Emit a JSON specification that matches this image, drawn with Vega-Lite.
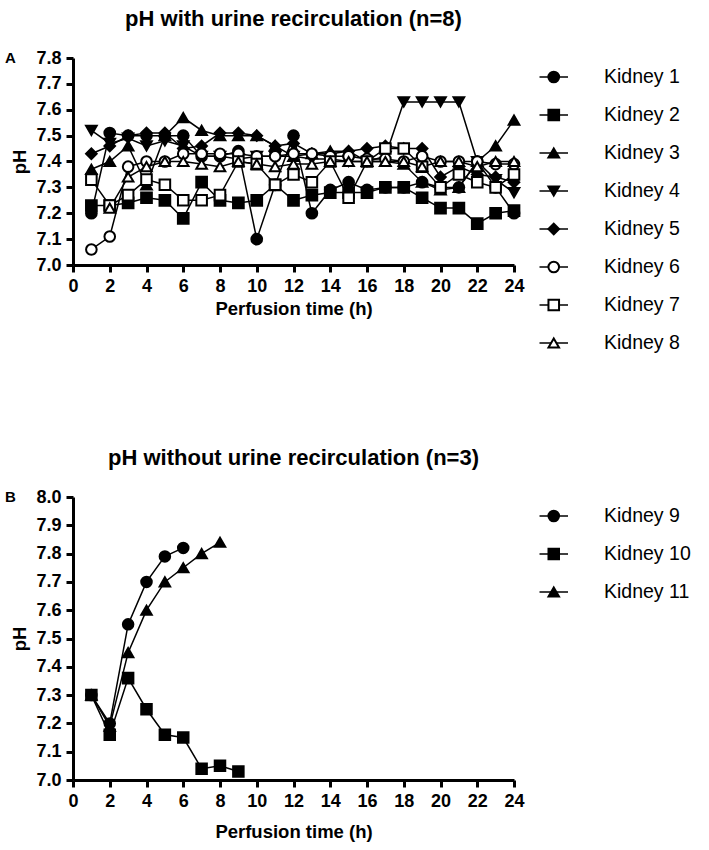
{
  "$schema": "https://vega.github.io/schema/vega-lite/v6.json",
  "padding": {"left": 5, "top": 8, "right": 5, "bottom": 5},
  "background": "white",
  "config": {
    "view": {"stroke": null},
    "font": "Liberation Sans",
    "axis": {
      "grid": false, "domainColor": "black", "domainWidth": 3, "tickColor": "black", "tickWidth": 3, "tickSize": 7,
      "labelFont": "Liberation Sans", "labelFontWeight": "bold", "labelFontSize": 18, "labelColor": "black", "labelPadding": 5,
      "titleFont": "Liberation Sans", "titleFontWeight": "bold", "titleFontSize": 18.5, "titleColor": "black"
    },
    "title": {"font": "Liberation Sans", "fontWeight": "bold", "fontSize": 22, "color": "black", "frame": "group", "anchor": "middle", "offset": 18}
  },
  "datasets": {
    "a": [
      {"kidney": "Kidney 1", "t": 1, "ph": 7.20}, {"kidney": "Kidney 1", "t": 2, "ph": 7.51}, {"kidney": "Kidney 1", "t": 3, "ph": 7.50}, {"kidney": "Kidney 1", "t": 4, "ph": 7.50}, {"kidney": "Kidney 1", "t": 5, "ph": 7.50}, {"kidney": "Kidney 1", "t": 6, "ph": 7.50}, {"kidney": "Kidney 1", "t": 7, "ph": 7.42}, {"kidney": "Kidney 1", "t": 8, "ph": 7.42}, {"kidney": "Kidney 1", "t": 9, "ph": 7.44}, {"kidney": "Kidney 1", "t": 10, "ph": 7.10}, {"kidney": "Kidney 1", "t": 11, "ph": 7.31}, {"kidney": "Kidney 1", "t": 12, "ph": 7.50}, {"kidney": "Kidney 1", "t": 13, "ph": 7.20}, {"kidney": "Kidney 1", "t": 14, "ph": 7.29}, {"kidney": "Kidney 1", "t": 15, "ph": 7.32}, {"kidney": "Kidney 1", "t": 16, "ph": 7.29}, {"kidney": "Kidney 1", "t": 17, "ph": 7.30}, {"kidney": "Kidney 1", "t": 18, "ph": 7.30}, {"kidney": "Kidney 1", "t": 19, "ph": 7.32}, {"kidney": "Kidney 1", "t": 20, "ph": 7.30}, {"kidney": "Kidney 1", "t": 21, "ph": 7.30}, {"kidney": "Kidney 1", "t": 22, "ph": 7.40}, {"kidney": "Kidney 1", "t": 23, "ph": 7.30}, {"kidney": "Kidney 1", "t": 24, "ph": 7.20},
      {"kidney": "Kidney 2", "t": 1, "ph": 7.23}, {"kidney": "Kidney 2", "t": 2, "ph": 7.23}, {"kidney": "Kidney 2", "t": 3, "ph": 7.24}, {"kidney": "Kidney 2", "t": 4, "ph": 7.26}, {"kidney": "Kidney 2", "t": 5, "ph": 7.25}, {"kidney": "Kidney 2", "t": 6, "ph": 7.18}, {"kidney": "Kidney 2", "t": 7, "ph": 7.32}, {"kidney": "Kidney 2", "t": 8, "ph": 7.25}, {"kidney": "Kidney 2", "t": 9, "ph": 7.24}, {"kidney": "Kidney 2", "t": 10, "ph": 7.25}, {"kidney": "Kidney 2", "t": 11, "ph": 7.31}, {"kidney": "Kidney 2", "t": 12, "ph": 7.25}, {"kidney": "Kidney 2", "t": 13, "ph": 7.27}, {"kidney": "Kidney 2", "t": 14, "ph": 7.28}, {"kidney": "Kidney 2", "t": 15, "ph": 7.28}, {"kidney": "Kidney 2", "t": 16, "ph": 7.28}, {"kidney": "Kidney 2", "t": 17, "ph": 7.30}, {"kidney": "Kidney 2", "t": 18, "ph": 7.30}, {"kidney": "Kidney 2", "t": 19, "ph": 7.26}, {"kidney": "Kidney 2", "t": 20, "ph": 7.22}, {"kidney": "Kidney 2", "t": 21, "ph": 7.22}, {"kidney": "Kidney 2", "t": 22, "ph": 7.16}, {"kidney": "Kidney 2", "t": 23, "ph": 7.20}, {"kidney": "Kidney 2", "t": 24, "ph": 7.21},
      {"kidney": "Kidney 3", "t": 1, "ph": 7.37}, {"kidney": "Kidney 3", "t": 2, "ph": 7.40}, {"kidney": "Kidney 3", "t": 3, "ph": 7.46}, {"kidney": "Kidney 3", "t": 4, "ph": 7.31}, {"kidney": "Kidney 3", "t": 5, "ph": 7.50}, {"kidney": "Kidney 3", "t": 6, "ph": 7.57}, {"kidney": "Kidney 3", "t": 7, "ph": 7.52}, {"kidney": "Kidney 3", "t": 8, "ph": 7.50}, {"kidney": "Kidney 3", "t": 9, "ph": 7.50}, {"kidney": "Kidney 3", "t": 10, "ph": 7.50}, {"kidney": "Kidney 3", "t": 11, "ph": 7.46}, {"kidney": "Kidney 3", "t": 12, "ph": 7.42}, {"kidney": "Kidney 3", "t": 13, "ph": 7.43}, {"kidney": "Kidney 3", "t": 14, "ph": 7.44}, {"kidney": "Kidney 3", "t": 15, "ph": 7.44}, {"kidney": "Kidney 3", "t": 16, "ph": 7.40}, {"kidney": "Kidney 3", "t": 17, "ph": 7.40}, {"kidney": "Kidney 3", "t": 18, "ph": 7.39}, {"kidney": "Kidney 3", "t": 19, "ph": 7.32}, {"kidney": "Kidney 3", "t": 20, "ph": 7.29}, {"kidney": "Kidney 3", "t": 21, "ph": 7.30}, {"kidney": "Kidney 3", "t": 22, "ph": 7.40}, {"kidney": "Kidney 3", "t": 23, "ph": 7.46}, {"kidney": "Kidney 3", "t": 24, "ph": 7.56},
      {"kidney": "Kidney 4", "t": 1, "ph": 7.52}, {"kidney": "Kidney 4", "t": 2, "ph": 7.47}, {"kidney": "Kidney 4", "t": 3, "ph": 7.49}, {"kidney": "Kidney 4", "t": 4, "ph": 7.46}, {"kidney": "Kidney 4", "t": 5, "ph": 7.48}, {"kidney": "Kidney 4", "t": 6, "ph": 7.46}, {"kidney": "Kidney 4", "t": 7, "ph": 7.42}, {"kidney": "Kidney 4", "t": 8, "ph": 7.42}, {"kidney": "Kidney 4", "t": 9, "ph": 7.41}, {"kidney": "Kidney 4", "t": 10, "ph": 7.42}, {"kidney": "Kidney 4", "t": 11, "ph": 7.42}, {"kidney": "Kidney 4", "t": 12, "ph": 7.42}, {"kidney": "Kidney 4", "t": 13, "ph": 7.41}, {"kidney": "Kidney 4", "t": 14, "ph": 7.41}, {"kidney": "Kidney 4", "t": 15, "ph": 7.40}, {"kidney": "Kidney 4", "t": 16, "ph": 7.40}, {"kidney": "Kidney 4", "t": 17, "ph": 7.42}, {"kidney": "Kidney 4", "t": 18, "ph": 7.63}, {"kidney": "Kidney 4", "t": 19, "ph": 7.63}, {"kidney": "Kidney 4", "t": 20, "ph": 7.63}, {"kidney": "Kidney 4", "t": 21, "ph": 7.63}, {"kidney": "Kidney 4", "t": 22, "ph": 7.40}, {"kidney": "Kidney 4", "t": 23, "ph": 7.33}, {"kidney": "Kidney 4", "t": 24, "ph": 7.28},
      {"kidney": "Kidney 5", "t": 1, "ph": 7.43}, {"kidney": "Kidney 5", "t": 2, "ph": 7.46}, {"kidney": "Kidney 5", "t": 3, "ph": 7.50}, {"kidney": "Kidney 5", "t": 4, "ph": 7.51}, {"kidney": "Kidney 5", "t": 5, "ph": 7.51}, {"kidney": "Kidney 5", "t": 6, "ph": 7.45}, {"kidney": "Kidney 5", "t": 7, "ph": 7.46}, {"kidney": "Kidney 5", "t": 8, "ph": 7.51}, {"kidney": "Kidney 5", "t": 9, "ph": 7.51}, {"kidney": "Kidney 5", "t": 10, "ph": 7.50}, {"kidney": "Kidney 5", "t": 11, "ph": 7.46}, {"kidney": "Kidney 5", "t": 12, "ph": 7.47}, {"kidney": "Kidney 5", "t": 13, "ph": 7.43}, {"kidney": "Kidney 5", "t": 14, "ph": 7.43}, {"kidney": "Kidney 5", "t": 15, "ph": 7.44}, {"kidney": "Kidney 5", "t": 16, "ph": 7.45}, {"kidney": "Kidney 5", "t": 17, "ph": 7.46}, {"kidney": "Kidney 5", "t": 18, "ph": 7.45}, {"kidney": "Kidney 5", "t": 19, "ph": 7.45}, {"kidney": "Kidney 5", "t": 20, "ph": 7.34}, {"kidney": "Kidney 5", "t": 21, "ph": 7.38}, {"kidney": "Kidney 5", "t": 22, "ph": 7.35}, {"kidney": "Kidney 5", "t": 23, "ph": 7.34}, {"kidney": "Kidney 5", "t": 24, "ph": 7.32},
      {"kidney": "Kidney 6", "t": 1, "ph": 7.06}, {"kidney": "Kidney 6", "t": 2, "ph": 7.11}, {"kidney": "Kidney 6", "t": 3, "ph": 7.38}, {"kidney": "Kidney 6", "t": 4, "ph": 7.40}, {"kidney": "Kidney 6", "t": 5, "ph": 7.40}, {"kidney": "Kidney 6", "t": 6, "ph": 7.43}, {"kidney": "Kidney 6", "t": 7, "ph": 7.43}, {"kidney": "Kidney 6", "t": 8, "ph": 7.43}, {"kidney": "Kidney 6", "t": 9, "ph": 7.43}, {"kidney": "Kidney 6", "t": 10, "ph": 7.42}, {"kidney": "Kidney 6", "t": 11, "ph": 7.42}, {"kidney": "Kidney 6", "t": 12, "ph": 7.43}, {"kidney": "Kidney 6", "t": 13, "ph": 7.43}, {"kidney": "Kidney 6", "t": 14, "ph": 7.42}, {"kidney": "Kidney 6", "t": 15, "ph": 7.42}, {"kidney": "Kidney 6", "t": 16, "ph": 7.41}, {"kidney": "Kidney 6", "t": 17, "ph": 7.41}, {"kidney": "Kidney 6", "t": 18, "ph": 7.40}, {"kidney": "Kidney 6", "t": 19, "ph": 7.42}, {"kidney": "Kidney 6", "t": 20, "ph": 7.40}, {"kidney": "Kidney 6", "t": 21, "ph": 7.40}, {"kidney": "Kidney 6", "t": 22, "ph": 7.40}, {"kidney": "Kidney 6", "t": 23, "ph": 7.39}, {"kidney": "Kidney 6", "t": 24, "ph": 7.39},
      {"kidney": "Kidney 7", "t": 1, "ph": 7.33}, {"kidney": "Kidney 7", "t": 2, "ph": 7.23}, {"kidney": "Kidney 7", "t": 3, "ph": 7.27}, {"kidney": "Kidney 7", "t": 4, "ph": 7.33}, {"kidney": "Kidney 7", "t": 5, "ph": 7.31}, {"kidney": "Kidney 7", "t": 6, "ph": 7.25}, {"kidney": "Kidney 7", "t": 7, "ph": 7.25}, {"kidney": "Kidney 7", "t": 8, "ph": 7.27}, {"kidney": "Kidney 7", "t": 9, "ph": 7.40}, {"kidney": "Kidney 7", "t": 10, "ph": 7.39}, {"kidney": "Kidney 7", "t": 11, "ph": 7.31}, {"kidney": "Kidney 7", "t": 12, "ph": 7.35}, {"kidney": "Kidney 7", "t": 13, "ph": 7.32}, {"kidney": "Kidney 7", "t": 14, "ph": 7.40}, {"kidney": "Kidney 7", "t": 15, "ph": 7.26}, {"kidney": "Kidney 7", "t": 16, "ph": 7.40}, {"kidney": "Kidney 7", "t": 17, "ph": 7.45}, {"kidney": "Kidney 7", "t": 18, "ph": 7.45}, {"kidney": "Kidney 7", "t": 19, "ph": 7.38}, {"kidney": "Kidney 7", "t": 20, "ph": 7.30}, {"kidney": "Kidney 7", "t": 21, "ph": 7.35}, {"kidney": "Kidney 7", "t": 22, "ph": 7.32}, {"kidney": "Kidney 7", "t": 23, "ph": 7.30}, {"kidney": "Kidney 7", "t": 24, "ph": 7.35},
      {"kidney": "Kidney 8", "t": 2, "ph": 7.22}, {"kidney": "Kidney 8", "t": 3, "ph": 7.34}, {"kidney": "Kidney 8", "t": 4, "ph": 7.38}, {"kidney": "Kidney 8", "t": 5, "ph": 7.40}, {"kidney": "Kidney 8", "t": 6, "ph": 7.40}, {"kidney": "Kidney 8", "t": 7, "ph": 7.39}, {"kidney": "Kidney 8", "t": 8, "ph": 7.38}, {"kidney": "Kidney 8", "t": 9, "ph": 7.40}, {"kidney": "Kidney 8", "t": 10, "ph": 7.39}, {"kidney": "Kidney 8", "t": 11, "ph": 7.38}, {"kidney": "Kidney 8", "t": 12, "ph": 7.39}, {"kidney": "Kidney 8", "t": 13, "ph": 7.39}, {"kidney": "Kidney 8", "t": 14, "ph": 7.40}, {"kidney": "Kidney 8", "t": 15, "ph": 7.40}, {"kidney": "Kidney 8", "t": 16, "ph": 7.40}, {"kidney": "Kidney 8", "t": 17, "ph": 7.40}, {"kidney": "Kidney 8", "t": 18, "ph": 7.40}, {"kidney": "Kidney 8", "t": 19, "ph": 7.38}, {"kidney": "Kidney 8", "t": 20, "ph": 7.40}, {"kidney": "Kidney 8", "t": 21, "ph": 7.40}, {"kidney": "Kidney 8", "t": 22, "ph": 7.38}, {"kidney": "Kidney 8", "t": 23, "ph": 7.40}, {"kidney": "Kidney 8", "t": 24, "ph": 7.40}
    ],
    "b": [
      {"kidney": "Kidney 9", "t": 1, "ph": 7.30}, {"kidney": "Kidney 9", "t": 2, "ph": 7.20}, {"kidney": "Kidney 9", "t": 3, "ph": 7.55}, {"kidney": "Kidney 9", "t": 4, "ph": 7.70}, {"kidney": "Kidney 9", "t": 5, "ph": 7.79}, {"kidney": "Kidney 9", "t": 6, "ph": 7.82},
      {"kidney": "Kidney 10", "t": 1, "ph": 7.30}, {"kidney": "Kidney 10", "t": 2, "ph": 7.16}, {"kidney": "Kidney 10", "t": 3, "ph": 7.36}, {"kidney": "Kidney 10", "t": 4, "ph": 7.25}, {"kidney": "Kidney 10", "t": 5, "ph": 7.16}, {"kidney": "Kidney 10", "t": 6, "ph": 7.15}, {"kidney": "Kidney 10", "t": 7, "ph": 7.04}, {"kidney": "Kidney 10", "t": 8, "ph": 7.05}, {"kidney": "Kidney 10", "t": 9, "ph": 7.03},
      {"kidney": "Kidney 11", "t": 1, "ph": 7.30}, {"kidney": "Kidney 11", "t": 2, "ph": 7.19}, {"kidney": "Kidney 11", "t": 3, "ph": 7.45}, {"kidney": "Kidney 11", "t": 4, "ph": 7.60}, {"kidney": "Kidney 11", "t": 5, "ph": 7.70}, {"kidney": "Kidney 11", "t": 6, "ph": 7.75}, {"kidney": "Kidney 11", "t": 7, "ph": 7.80}, {"kidney": "Kidney 11", "t": 8, "ph": 7.84}
    ],
    "panelA": [{"lab": "A", "t": -3.4, "ph": 7.8}],
    "panelB": [{"lab": "B", "t": -3.4, "ph": 8.0}]
  },
  "vconcat": [
    {
      "hconcat": [
        {
          "width": 441, "height": 207,
          "title": {"text": "pH with urine recirculation (n=8)"},
          "encoding": {
            "x": {"field": "t", "type": "quantitative", "scale": {"domain": [0, 24], "nice": false}, "axis": {"title": "Perfusion time (h)", "values": [0, 2, 4, 6, 8, 10, 12, 14, 16, 18, 20, 22, 24], "labelFlush": false}},
            "y": {"field": "ph", "type": "quantitative", "scale": {"domain": [7.0, 7.8], "nice": false, "zero": false}, "axis": {"title": "pH", "values": [7.0, 7.1, 7.2, 7.3, 7.4, 7.5, 7.6, 7.7, 7.8], "format": ".1f", "titlePadding": 6}}
          },
          "layer": [
            {"data": {"name": "a"}, "mark": {"type": "line", "color": "black", "strokeWidth": 1.5}, "encoding": {"detail": {"field": "kidney"}}},
            {"data": {"name": "a"}, "mark": {"type": "point", "filled": true, "stroke": "black", "strokeWidth": 2, "opacity": 1},
             "encoding": {
               "shape": {"field": "kidney", "scale": {"domain": ["Kidney 1", "Kidney 2", "Kidney 3", "Kidney 4", "Kidney 5", "Kidney 6", "Kidney 7", "Kidney 8"], "range": ["circle", "square", "triangle-up", "triangle-down", "diamond", "circle", "square", "triangle-up"]}, "legend": null},
               "fill": {"field": "kidney", "scale": {"domain": ["Kidney 1", "Kidney 2", "Kidney 3", "Kidney 4", "Kidney 5", "Kidney 6", "Kidney 7", "Kidney 8"], "range": ["black", "black", "black", "black", "black", "white", "white", "white"]}, "legend": null},
               "size": {"field": "kidney", "scale": {"domain": ["Kidney 1", "Kidney 2", "Kidney 3", "Kidney 4", "Kidney 5", "Kidney 6", "Kidney 7", "Kidney 8"], "range": [115, 110, 120, 120, 75, 100, 95, 110]}, "legend": null}
             }},
            {"data": {"name": "panelA"}, "mark": {"type": "text", "fontWeight": "bold", "fontSize": 15, "align": "center", "baseline": "middle", "color": "black", "clip": false},
             "encoding": {"text": {"field": "lab", "type": "nominal"}}}
          ]
        },
        {
          "width": 150, "height": 304,
          "data": {"name": "a"},
          "transform": [{"aggregate": [{"op": "count", "as": "n"}], "groupby": ["kidney"]}],
          "encoding": {
            "y": {"field": "kidney", "type": "nominal", "axis": null, "scale": {"domain": ["Kidney 1", "Kidney 2", "Kidney 3", "Kidney 4", "Kidney 5", "Kidney 6", "Kidney 7", "Kidney 8"]}}
          },
          "layer": [
            {"mark": {"type": "rule", "color": "black", "strokeWidth": 1.5}, "encoding": {"x": {"datum": 0.3, "type": "quantitative", "scale": {"domain": [0, 10]}, "axis": null}, "x2": {"datum": 2.2}}},
            {"mark": {"type": "point", "filled": true, "stroke": "black", "strokeWidth": 2, "opacity": 1},
             "encoding": {
               "x": {"datum": 1.25, "type": "quantitative"},
               "shape": {"field": "kidney", "scale": {"domain": ["Kidney 1", "Kidney 2", "Kidney 3", "Kidney 4", "Kidney 5", "Kidney 6", "Kidney 7", "Kidney 8"], "range": ["circle", "square", "triangle-up", "triangle-down", "diamond", "circle", "square", "triangle-up"]}, "legend": null},
               "fill": {"field": "kidney", "scale": {"domain": ["Kidney 1", "Kidney 2", "Kidney 3", "Kidney 4", "Kidney 5", "Kidney 6", "Kidney 7", "Kidney 8"], "range": ["black", "black", "black", "black", "black", "white", "white", "white"]}, "legend": null},
               "size": {"field": "kidney", "scale": {"domain": ["Kidney 1", "Kidney 2", "Kidney 3", "Kidney 4", "Kidney 5", "Kidney 6", "Kidney 7", "Kidney 8"], "range": [90, 90, 90, 90, 60, 80, 80, 90]}, "legend": null}
             }},
            {"mark": {"type": "text", "align": "left", "baseline": "middle", "fontSize": 19.5, "font": "Liberation Sans", "color": "black"}, "encoding": {"x": {"datum": 4.6, "type": "quantitative"}, "text": {"field": "kidney"}}}
          ]
        }
      ],
      "spacing": 10
    },
    {
      "hconcat": [
        {
          "width": 441, "height": 283,
          "title": {"text": "pH without urine recirculation (n=3)"},
          "encoding": {
            "x": {"field": "t", "type": "quantitative", "scale": {"domain": [0, 24], "nice": false}, "axis": {"title": "Perfusion time (h)", "values": [0, 2, 4, 6, 8, 10, 12, 14, 16, 18, 20, 22, 24], "labelFlush": false, "titlePadding": 12}},
            "y": {"field": "ph", "type": "quantitative", "scale": {"domain": [7.0, 8.0], "nice": false, "zero": false}, "axis": {"title": "pH", "values": [7.0, 7.1, 7.2, 7.3, 7.4, 7.5, 7.6, 7.7, 7.8, 7.9, 8.0], "format": ".1f", "titlePadding": 6}}
          },
          "layer": [
            {"data": {"name": "b"}, "mark": {"type": "line", "color": "black", "strokeWidth": 1.5}, "encoding": {"detail": {"field": "kidney"}}},
            {"data": {"name": "b"}, "mark": {"type": "point", "filled": true, "stroke": "black", "strokeWidth": 2, "opacity": 1, "fill": "black"},
             "encoding": {
               "shape": {"field": "kidney", "scale": {"domain": ["Kidney 9", "Kidney 10", "Kidney 11"], "range": ["circle", "square", "triangle-up"]}, "legend": null},
               "size": {"field": "kidney", "scale": {"domain": ["Kidney 9", "Kidney 10", "Kidney 11"], "range": [125, 115, 120]}, "legend": null}
             }},
            {"data": {"name": "panelB"}, "mark": {"type": "text", "fontWeight": "bold", "fontSize": 15, "align": "center", "baseline": "middle", "color": "black", "clip": false},
             "encoding": {"text": {"field": "lab", "type": "nominal"}}}
          ]
        },
        {
          "width": 150, "height": 114,
          "data": {"name": "b"},
          "transform": [{"aggregate": [{"op": "count", "as": "n"}], "groupby": ["kidney"]}],
          "encoding": {
            "y": {"field": "kidney", "type": "nominal", "axis": null, "scale": {"domain": ["Kidney 9", "Kidney 10", "Kidney 11"]}}
          },
          "layer": [
            {"mark": {"type": "rule", "color": "black", "strokeWidth": 1.5}, "encoding": {"x": {"datum": 0.3, "type": "quantitative", "scale": {"domain": [0, 10]}, "axis": null}, "x2": {"datum": 2.2}}},
            {"mark": {"type": "point", "filled": true, "stroke": "black", "strokeWidth": 2, "opacity": 1, "fill": "black"},
             "encoding": {
               "x": {"datum": 1.25, "type": "quantitative"},
               "shape": {"field": "kidney", "scale": {"domain": ["Kidney 9", "Kidney 10", "Kidney 11"], "range": ["circle", "square", "triangle-up"]}, "legend": null},
               "size": {"field": "kidney", "scale": {"domain": ["Kidney 9", "Kidney 10", "Kidney 11"], "range": [100, 100, 100]}, "legend": null}
             }},
            {"mark": {"type": "text", "align": "left", "baseline": "middle", "fontSize": 19.5, "font": "Liberation Sans", "color": "black"}, "encoding": {"x": {"datum": 4.6, "type": "quantitative"}, "text": {"field": "kidney"}}}
          ]
        }
      ],
      "spacing": 10
    }
  ],
  "spacing": 85
}
